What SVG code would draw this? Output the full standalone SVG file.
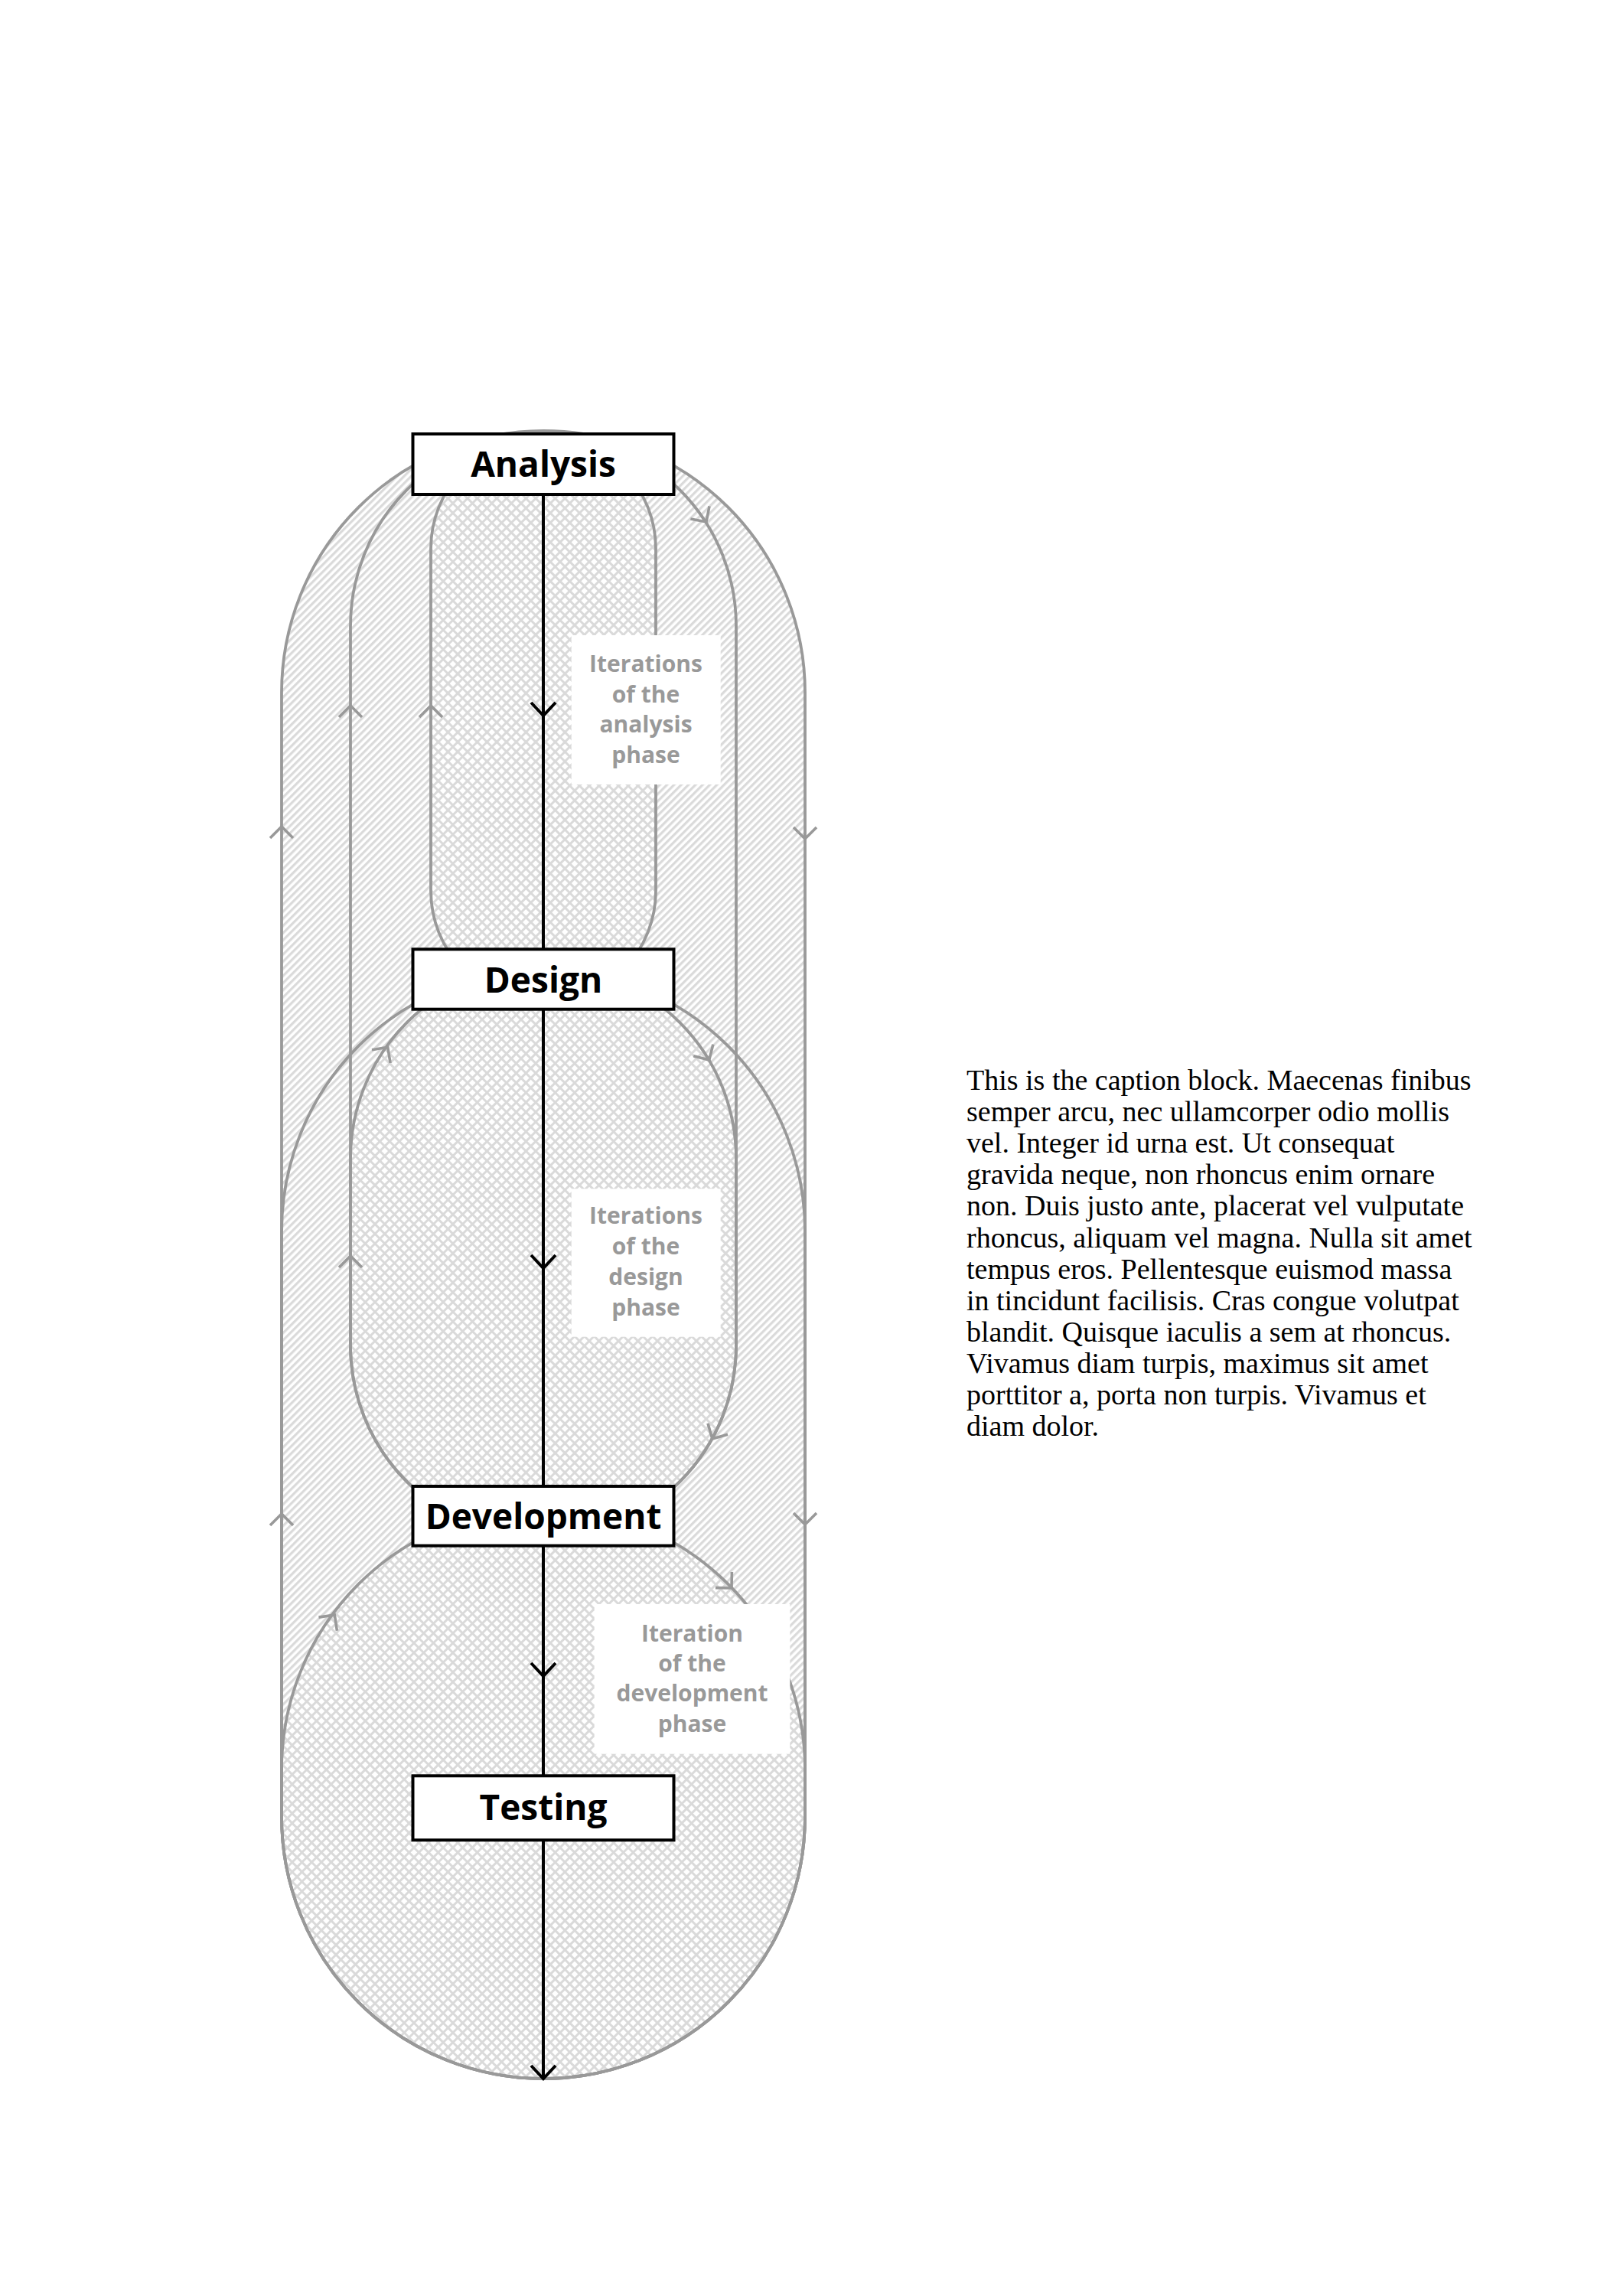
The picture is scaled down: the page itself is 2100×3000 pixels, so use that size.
<svg xmlns="http://www.w3.org/2000/svg" width="2100" height="3000" viewBox="0 0 2100 3000">
<defs>
  <pattern id="diag" patternUnits="userSpaceOnUse" width="6.6" height="6.6" patternTransform="rotate(45)">
    <rect width="6.6" height="6.6" fill="#ffffff"/>
    <rect x="0" y="0" width="3.2" height="6.6" fill="#dadada"/>
  </pattern>
  <pattern id="cross" patternUnits="userSpaceOnUse" width="9" height="9" patternTransform="rotate(45)">
    <rect width="9" height="9" fill="#ffffff"/>
    <rect x="0" y="0" width="3" height="9" fill="#dadada"/>
    <rect x="0" y="0" width="9" height="3" fill="#dadada"/>
  </pattern>
  <style>
    .fd{fill:url(#diag);stroke:none}
    .fc{fill:url(#cross);stroke:none}
    .loop{fill:none;stroke:#999999;stroke-width:3.8}
    .ah{fill:none;stroke:#999999;stroke-width:3.6}
    .ahb{fill:none;stroke:#000000;stroke-width:4}
    .flow{fill:none;stroke:#000000;stroke-width:4}
    .box{fill:#ffffff;stroke:#000000;stroke-width:4}
    .boxt{font-family:"Open Sans","Liberation Sans",sans-serif;font-weight:700;font-size:46px;fill:#000000;text-anchor:middle}
    .lblbg{fill:#ffffff}
    .lbl{font-family:"Open Sans","Liberation Sans",sans-serif;font-weight:700;font-size:30px;fill:#999999;text-anchor:middle}
    .cap{font-family:"Liberation Serif","Times New Roman",serif;font-size:38px;fill:#000000}
  </style>
</defs>
<rect width="2100" height="3000" fill="#ffffff"/>

<g id="regions">
  <path class="fd" d="M368 905 A342 342 0 0 1 1052 905 L1052 2374 A342 342 0 0 1 368 2374 Z"/>
  <path class="fd" d="M458 818 A252 252 0 0 1 962 818 L962 1758 A252 252 0 0 1 458 1758 Z"/>
  <path class="fc" d="M563 717 A147 147 0 0 1 857 717 L857 1164 A147 147 0 0 1 563 1164 Z"/>
  <path class="fc" d="M458 1514 A252 252 0 0 1 962 1514 L962 1758 A252 252 0 0 1 458 1758 Z"/>
  <path class="fc" d="M368 2312 A342 342 0 0 1 1052 2312 L1052 2374 A342 342 0 0 1 368 2374 Z"/>
</g>

<g id="connectors">
  <path id="loop-analysis-outer" class="loop" d="M368 905 A342 342 0 0 1 1052 905 L1052 2374 A342 342 0 0 1 368 2374 Z"/>
  <path id="loop-design-outer" class="loop" d="M368 1609 A342 342 0 0 1 1052 1609 L1052 2374 A342 342 0 0 1 368 2374 Z"/>
  <path id="loop-analysis-mid" class="loop" d="M458 818 A252 252 0 0 1 962 818 L962 1758 A252 252 0 0 1 458 1758 Z"/>
  <path id="loop-analysis-inner" class="loop" d="M563 717 A147 147 0 0 1 857 717 L857 1164 A147 147 0 0 1 563 1164 Z"/>
  <path id="loop-design-inner" class="loop" d="M458 1514 A252 252 0 0 1 962 1514 L962 1758 A252 252 0 0 1 458 1758 Z"/>
  <path id="loop-development" class="loop" d="M368 2312 A342 342 0 0 1 1052 2312 L1052 2374 A342 342 0 0 1 368 2374 Z"/>

  <g id="loop-arrows">
    <polyline class="ah" points="443,937 458,922 473,937"/>
    <polyline class="ah" points="548,937 563,922 578,937"/>
    <polyline class="ah" points="353,1095 368,1080 383,1095"/>
    <polyline class="ah" points="443,1656 458,1641 473,1656"/>
    <polyline class="ah" points="353,1993 368,1978 383,1993"/>
    <polyline class="ah" points="1037,1081 1052,1096 1067,1081"/>
    <polyline class="ah" points="1037,1977 1052,1992 1067,1977"/>
    <polyline class="ah" points="902.4,678 923,682 927,661.4"/>
    <polyline class="ah" points="486,1371.7 506.7,1368.3 510.1,1389"/>
    <polyline class="ah" points="906.3,1379.8 926.7,1385 931.9,1364.6"/>
    <polyline class="ah" points="925,1859.8 930.8,1880 951,1874.2"/>
    <polyline class="ah" points="416.5,2113.1 437.3,2110 440.4,2130.8"/>
    <polyline class="ah" points="935,2074.6 956,2075 956.4,2054"/>
  </g>

  <path id="flow-main" class="flow" d="M710 647 L710 2716"/>
  <polyline class="ahb" points="694,918 710,935 726,918"/>
  <polyline class="ahb" points="694,1640 710,1657 726,1640"/>
  <polyline class="ahb" points="694,2173 710,2190 726,2173"/>
  <polyline class="ahb" points="694,2699 710,2716 726,2699"/>
</g>

<g id="label-analysis-iterations">
  <rect class="lblbg" x="746.7" y="830" width="195" height="195"/>
  <text class="lbl"><tspan x="844" y="878.3">Iterations</tspan><tspan x="844" y="917.7">of the</tspan><tspan x="844" y="957.3">analysis</tspan><tspan x="844" y="996.7">phase</tspan></text>
</g>
<g id="label-design-iterations">
  <rect class="lblbg" x="746.7" y="1553.3" width="195" height="193.4"/>
  <text class="lbl"><tspan x="844" y="1599.3">Iterations</tspan><tspan x="844" y="1639.3">of the</tspan><tspan x="844" y="1679.3">design</tspan><tspan x="844" y="1719">phase</tspan></text>
</g>
<g id="label-development-iteration">
  <rect class="lblbg" x="776.7" y="2096" width="255.6" height="195.7"/>
  <text class="lbl"><tspan x="904.5" y="2145">Iteration</tspan><tspan x="904.5" y="2184.3">of the</tspan><tspan x="904.5" y="2223.3">development</tspan><tspan x="904.5" y="2263.3">phase</tspan></text>
</g>

<g id="node-analysis">
  <rect class="box" x="539.5" y="567" width="341" height="79"/>
  <text class="boxt" x="710" y="623">Analysis</text>
</g>
<g id="node-design">
  <rect class="box" x="539.5" y="1240.3" width="341" height="78.4"/>
  <text class="boxt" x="710" y="1297">Design</text>
</g>
<g id="node-development">
  <rect class="box" x="539.5" y="1942" width="341" height="77.7"/>
  <text class="boxt" x="710" y="1998">Development</text>
</g>
<g id="node-testing">
  <rect class="box" x="539.5" y="2320.3" width="341" height="84"/>
  <text class="boxt" x="710" y="2378">Testing</text>
</g>

<g id="caption">
  <text class="cap">
    <tspan x="1263" y="1424">This is the caption block. Maecenas finibus</tspan>
    <tspan x="1263" y="1465.1">semper arcu, nec ullamcorper odio mollis</tspan>
    <tspan x="1263" y="1506.2">vel. Integer id urna est. Ut consequat</tspan>
    <tspan x="1263" y="1547.3">gravida neque, non rhoncus enim ornare</tspan>
    <tspan x="1263" y="1588.4">non. Duis justo ante, placerat vel vulputate</tspan>
    <tspan x="1263" y="1629.5">rhoncus, aliquam vel magna. Nulla sit amet</tspan>
    <tspan x="1263" y="1670.6">tempus eros. Pellentesque euismod massa</tspan>
    <tspan x="1263" y="1711.7">in tincidunt facilisis. Cras congue volutpat</tspan>
    <tspan x="1263" y="1752.8">blandit. Quisque iaculis a sem at rhoncus.</tspan>
    <tspan x="1263" y="1793.9">Vivamus diam turpis, maximus sit amet</tspan>
    <tspan x="1263" y="1835">porttitor a, porta non turpis. Vivamus et</tspan>
    <tspan x="1263" y="1876.1">diam dolor.</tspan>
  </text>
</g>
</svg>
